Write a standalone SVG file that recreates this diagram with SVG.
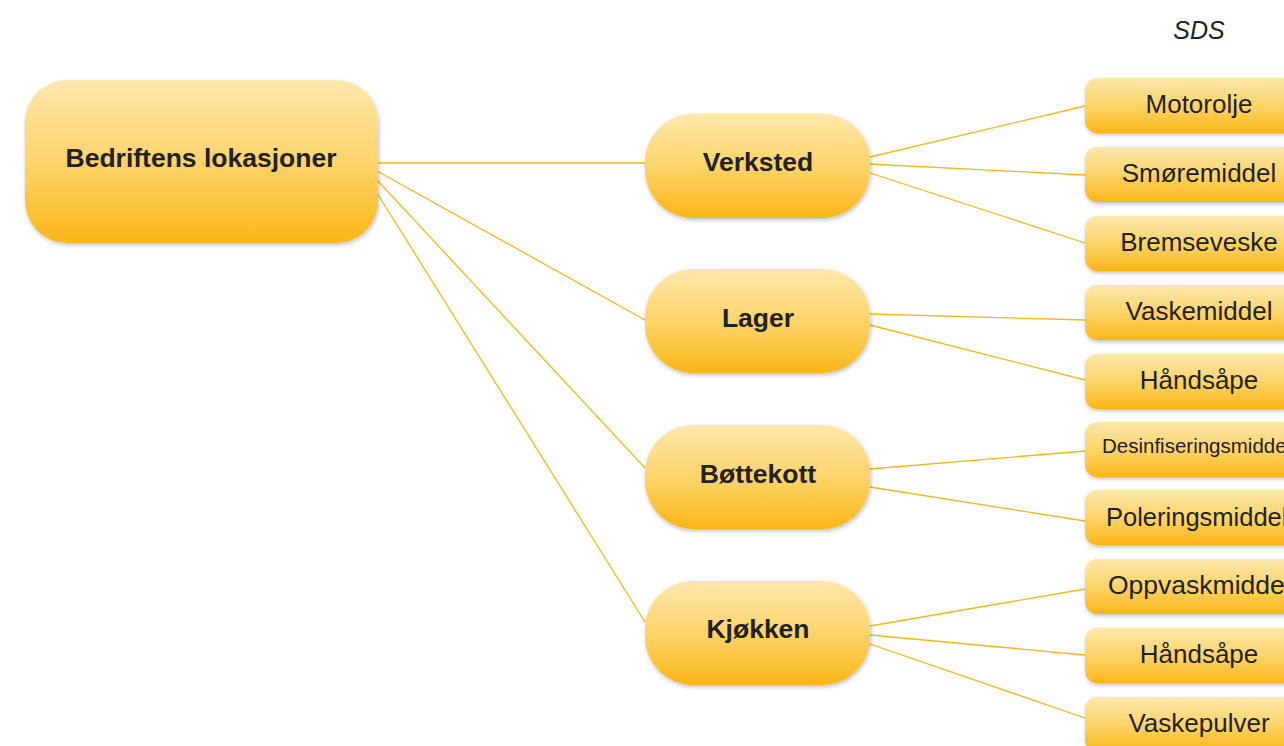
<svg xmlns="http://www.w3.org/2000/svg" width="1284" height="746" viewBox="0 0 1284 746">
<defs>
<linearGradient id="g" x1="0" y1="0" x2="0" y2="1">
<stop offset="0" stop-color="#fde7ad"/>
<stop offset="0.5" stop-color="#fdd46a"/>
<stop offset="1" stop-color="#fbb617"/>
</linearGradient>
<filter id="sh" x="-10%" y="-10%" width="120%" height="130%">
<feDropShadow dx="1" dy="2" stdDeviation="2" flood-color="#000" flood-opacity="0.25"/>
</filter>
<style>
.box{fill:url(#g);filter:url(#sh);}
.t{font-family:"Liberation Sans",Arial,sans-serif;fill:#222;text-anchor:middle;}
.b{font-weight:bold;font-size:26.5px;}
.l{font-size:26px;}
.s{text-anchor:start;}
.c line{stroke:#f6b817;stroke-width:1.3;}
</style>
</defs>
<rect width="1284" height="746" fill="#fff"/>
<text class="t" x="1199" y="39" font-size="25" font-style="italic">SDS</text>
<g class="c" id="connectors">
<line x1="377" y1="163" x2="645" y2="163"/>
<line x1="377" y1="171" x2="645" y2="320"/>
<line x1="377" y1="180" x2="645" y2="468"/>
<line x1="377" y1="193" x2="645" y2="622"/>
<line x1="870" y1="157" x2="1085" y2="106"/>
<line x1="870" y1="164" x2="1085" y2="175"/>
<line x1="870" y1="173" x2="1085" y2="243"/>
<line x1="870" y1="314" x2="1085" y2="320"/>
<line x1="870" y1="325" x2="1085" y2="380"/>
<line x1="870" y1="469" x2="1085" y2="451"/>
<line x1="870" y1="487" x2="1085" y2="521"/>
<line x1="870" y1="626" x2="1085" y2="589"/>
<line x1="870" y1="635" x2="1085" y2="655"/>
<line x1="870" y1="644" x2="1085" y2="718"/>
</g>
<g id="root"><rect class="box" x="25" y="80" width="353" height="163" rx="42"/><text class="t b" x="201" y="167">Bedriftens lokasjoner</text></g>
<g id="verksted"><rect class="box" x="645" y="114" width="225" height="104" rx="48"/><text class="t b" x="758" y="171">Verksted</text></g>
<g id="lager"><rect class="box" x="645" y="269" width="225" height="104" rx="48"/><text class="t b" x="758" y="327">Lager</text></g>
<g id="bottekott"><rect class="box" x="645" y="425" width="225" height="104" rx="48"/><text class="t b" x="758" y="483">Bøttekott</text></g>
<g id="kjokken"><rect class="box" x="645" y="581" width="225" height="104" rx="48"/><text class="t b" x="758" y="638">Kjøkken</text></g>
<g id="motorolje"><rect class="box" x="1085" y="78" width="230" height="55" rx="12"/><text class="t l" x="1199" y="113">Motorolje</text></g>
<g id="smoremiddel"><rect class="box" x="1085" y="147" width="230" height="55" rx="12"/><text class="t l" x="1199" y="182">Smøremiddel</text></g>
<g id="bremseveske"><rect class="box" x="1085" y="216" width="230" height="55" rx="12"/><text class="t l" x="1199" y="251">Bremseveske</text></g>
<g id="vaskemiddel"><rect class="box" x="1085" y="285" width="230" height="55" rx="12"/><text class="t l" x="1199" y="320">Vaskemiddel</text></g>
<g id="handsape1"><rect class="box" x="1085" y="354" width="230" height="55" rx="12"/><text class="t l" x="1199" y="389">Håndsåpe</text></g>
<g id="desinfiseringsmiddel"><rect class="box" x="1085" y="422" width="230" height="55" rx="12"/><text class="t s" x="1102" y="453" font-size="20.5">Desinfiseringsmiddel</text></g>
<g id="poleringsmiddel"><rect class="box" x="1085" y="490" width="230" height="55" rx="12"/><text class="t s" x="1106" y="526" font-size="25.5">Poleringsmiddel</text></g>
<g id="oppvaskmiddel"><rect class="box" x="1085" y="559" width="230" height="55" rx="12"/><text class="t s" x="1108" y="594" font-size="26.5">Oppvaskmiddel</text></g>
<g id="handsape2"><rect class="box" x="1085" y="628" width="230" height="55" rx="12"/><text class="t l" x="1199" y="663">Håndsåpe</text></g>
<g id="vaskepulver"><rect class="box" x="1085" y="697" width="230" height="55" rx="12"/><text class="t l" x="1199" y="732">Vaskepulver</text></g>
</svg>
